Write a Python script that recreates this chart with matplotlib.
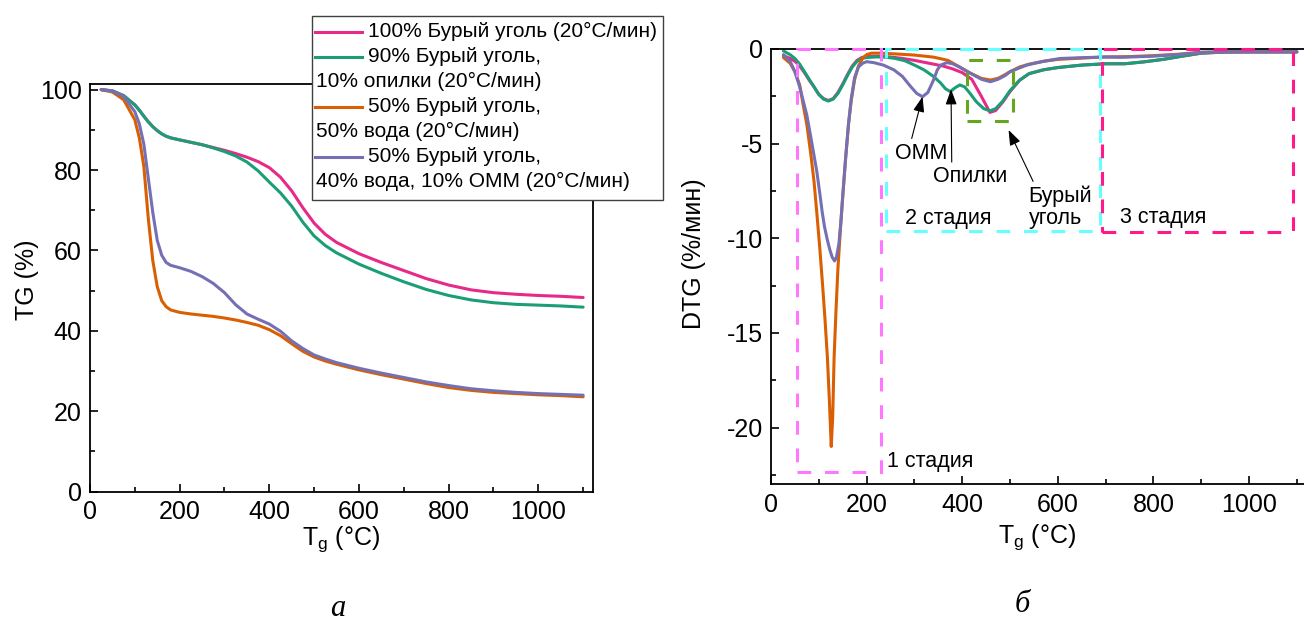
import matplotlib
matplotlib.use("Agg")
import matplotlib.pyplot as plt
from matplotlib.lines import Line2D
from matplotlib.patches import Rectangle
from matplotlib.ticker import MultipleLocator

plt.rcParams['font.family'] = ['Liberation Sans', 'DejaVu Sans']
plt.rcParams['axes.unicode_minus'] = False
plt.rcParams['mathtext.fontset'] = 'custom'
plt.rcParams['mathtext.rm'] = 'Liberation Sans'

# ---- TG data (left panel) ----
t_tg = [25, 50, 75, 100, 110, 120, 130, 140, 150, 160, 170, 180, 200, 225,
        250, 275, 300, 325, 350, 375, 400, 425, 450, 475, 500, 525, 550, 600,
        650, 700, 750, 800, 850, 900, 950, 1000, 1050, 1100]
tg_coal = [100, 99.7, 98.5, 96.2, 94.9, 93.4, 92.0, 90.8, 89.8, 89.0, 88.4,
           88.0, 87.5, 86.9, 86.3, 85.6, 84.9, 84.1, 83.2, 82.1, 80.6, 78.2,
           74.8, 70.6, 66.8, 64.0, 62.0, 59.2, 57.0, 55.0, 53.0, 51.4, 50.2,
           49.5, 49.1, 48.8, 48.6, 48.3]
tg_sawdust = [100, 99.7, 98.5, 96.2, 94.9, 93.4, 92.0, 90.8, 89.8, 89.0, 88.4,
              88.0, 87.5, 86.9, 86.3, 85.5, 84.6, 83.5, 82.0, 79.8, 77.0, 74.3,
              71.0, 67.0, 63.6, 61.2, 59.4, 56.6, 54.3, 52.2, 50.3, 48.8, 47.7,
              47.0, 46.6, 46.4, 46.2, 45.9]
tg_water = [100, 99.4, 97.5, 92.5, 88.0, 81.0, 68.0, 57.5, 51.0, 47.5, 46.0,
            45.2, 44.6, 44.2, 43.9, 43.6, 43.2, 42.7, 42.1, 41.4, 40.3, 38.8,
            36.8, 34.9, 33.5, 32.5, 31.7, 30.3, 29.1, 28.0, 26.9, 25.9, 25.2,
            24.7, 24.4, 24.1, 23.9, 23.6]
tg_omm = [100, 99.6, 98.3, 94.5, 91.5, 86.5, 78.0, 69.5, 62.5, 58.8, 57.0,
          56.3, 55.7, 54.8, 53.5, 51.8, 49.5, 46.5, 44.2, 42.9, 41.7, 39.9,
          37.5, 35.6, 34.0, 33.0, 32.1, 30.7, 29.5, 28.4, 27.3, 26.4, 25.6,
          25.1, 24.7, 24.4, 24.2, 24.0]

# ---- DTG data (right panel) ----
t_coal = [26, 40, 50, 60, 70, 80, 90, 100, 110, 120, 130, 140, 150, 160, 170,
          180, 190, 200, 220, 240, 260, 280, 300, 320, 340, 360, 380, 400, 420,
          440, 458, 470, 485, 500, 520, 540, 570, 600, 650, 700, 740, 780, 820,
          860, 900, 950, 1000, 1100]
dtg_coal = [-0.35, -0.5, -0.65, -0.9, -1.25, -1.65, -2.0, -2.4, -2.62, -2.72,
            -2.62, -2.3, -1.85, -1.35, -0.9, -0.6, -0.45, -0.4, -0.38, -0.4,
            -0.45, -0.52, -0.6, -0.7, -0.8, -0.9, -1.05, -1.25, -1.6, -2.5,
            -3.35, -3.25, -2.8, -2.25, -1.65, -1.3, -1.1, -0.98, -0.85, -0.78,
            -0.78, -0.68, -0.55, -0.38, -0.22, -0.16, -0.15, -0.15]
t_sawdust = [26, 40, 50, 60, 70, 80, 90, 100, 110, 120, 130, 140, 150, 160,
             170, 180, 190, 200, 220, 240, 260, 280, 300, 320, 340, 355, 365,
             375, 385, 395, 405, 415, 430, 445, 458, 470, 485, 500, 520, 540,
             570, 600, 650, 700, 740, 780, 820, 860, 900, 950, 1000, 1100]
dtg_sawdust = [-0.1, -0.3, -0.5, -0.8, -1.2, -1.6, -2.0, -2.4, -2.65, -2.75,
               -2.65, -2.35, -1.9, -1.4, -0.95, -0.65, -0.5, -0.45, -0.42,
               -0.43, -0.5, -0.62, -0.85, -1.1, -1.45, -1.8, -2.1, -2.25,
               -2.05, -1.9, -2.0, -2.3, -2.8, -3.15, -3.27, -3.15, -2.75, -2.2,
               -1.65, -1.3, -1.1, -0.98, -0.85, -0.78, -0.78, -0.68, -0.55,
               -0.38, -0.22, -0.16, -0.15, -0.15]
t_water = [26, 40, 50, 60, 67, 75, 83, 90, 96, 102, 108, 113, 118, 122, 126,
           129, 132, 136, 140, 145, 150, 156, 162, 168, 175, 183, 192, 200,
           210, 230, 260, 300, 340, 370, 393, 415, 440, 459, 475, 490, 500,
           520, 540, 570, 600, 650, 700, 750, 800, 850, 900, 950, 1000, 1100]
dtg_water = [-0.45, -0.75, -1.2, -1.9, -2.9, -4.0, -5.5, -7.0, -8.7, -10.5,
             -12.5, -14.3, -16.3, -18.5, -21.0, -19.5, -16.3, -13.8, -11.6,
             -9.6, -7.8, -5.8, -4.0, -2.7, -1.6, -0.9, -0.47, -0.3, -0.22,
             -0.22, -0.26, -0.32, -0.43, -0.6, -0.93, -1.25, -1.55, -1.64,
             -1.55, -1.35, -1.2, -0.95, -0.8, -0.65, -0.55, -0.48, -0.42, -0.4,
             -0.35, -0.28, -0.18, -0.15, -0.15, -0.15]
t_omm = [26, 40, 50, 60, 67, 75, 85, 96, 103, 107, 112, 118, 123, 128, 133,
         137, 142, 146, 150, 156, 162, 168, 175, 183, 192, 200, 215, 235, 257,
         275, 291, 305, 317, 328, 340, 348, 355, 368, 380, 393, 415, 440, 459,
         475, 490, 500, 520, 535, 570, 605, 650, 700, 730, 800, 850, 900, 950,
         1000, 1100]
dtg_omm = [-0.3, -0.65, -1.2, -2.0, -2.7, -3.5, -4.9, -6.5, -7.8, -8.6, -9.4,
           -10.1, -10.6, -11.0, -11.2, -11.0, -10.3, -9.2, -7.8, -5.8, -4.0,
           -2.6, -1.5, -0.95, -0.75, -0.67, -0.72, -0.85, -1.1, -1.45, -1.95,
           -2.35, -2.52, -2.3, -1.64, -1.1, -0.85, -0.72, -0.78, -0.93, -1.25,
           -1.6, -1.73, -1.6, -1.4, -1.2, -1.0, -0.85, -0.65, -0.5, -0.46,
           -0.42, -0.44, -0.38, -0.3, -0.17, -0.15, -0.15, -0.15]

labels = ["100% Бурый уголь (20°C/мин)",
          "90% Бурый уголь,\n10% опилки (20°C/мин)",
          "50% Бурый уголь,\n50% вода (20°C/мин)",
          "50% Бурый уголь,\n40% вода, 10% ОММ (20°C/мин)"]
colors = ['#e7298a', '#1b9e77', '#d95f02', '#7570b3']

# stage boxes (T_min, T_max, DTG_min, DTG_max)
stage_boxes = [((55, 231, -22.35, 0), '#ff77ff'),
               ((241, 688, -9.6, 0), '#66ffff'),
               ((692, 1093, -9.65, 0), '#ff1a8c'),
               ((410, 507, -3.8, -0.6), '#66a61e')]

W, H = 1304, 626
fig = plt.figure(figsize=(W / 100, H / 100), dpi=100)
ax1 = fig.add_axes([90 / W, 1 - 491.7 / H, 503 / W, 407.7 / H])
ax2 = fig.add_axes([771 / W, 1 - 484.3 / H, 533 / W, 435.3 / H])

lw = 2.2
for t, y, c in zip([t_tg] * 4, [tg_coal, tg_sawdust, tg_water, tg_omm], colors):
    ax1.plot(t, y, color=c, lw=lw, solid_capstyle='round')
for t, y, c in zip([t_coal, t_sawdust, t_water, t_omm],
                   [dtg_coal, dtg_sawdust, dtg_water, dtg_omm], colors):
    ax2.plot(t, y, color=c, lw=lw, solid_capstyle='round')

for (x0, x1, y0, y1), c in stage_boxes:
    ax2.add_patch(Rectangle((x0, y0), x1 - x0, y1 - y0, fill=False,
                            edgecolor=c, lw=2.2, linestyle=(0, (4.5, 4.5)),
                            zorder=3, clip_on=False))

ax1.set_xlim(0, 1122)
ax1.set_ylim(0, 101.4)
ax2.set_xlim(0, 1115)
ax2.set_ylim(-23, 0)

for ax in (ax1, ax2):
    ax.xaxis.set_major_locator(MultipleLocator(200))
    ax.xaxis.set_minor_locator(MultipleLocator(100))
    ax.tick_params(which='both', direction='in', top=False, right=False,
                   width=1.2, labelsize=18)
    ax.tick_params(which='major', length=6, pad=6)
    ax.tick_params(which='minor', length=3.5)
    for s in ax.spines.values():
        s.set_linewidth(1.3)
ax1.yaxis.set_major_locator(MultipleLocator(20))
ax1.yaxis.set_minor_locator(MultipleLocator(10))
ax2.yaxis.set_major_locator(MultipleLocator(5))
ax2.yaxis.set_minor_locator(MultipleLocator(2.5))
ax2.spines['right'].set_visible(False)

ax1.set_xlabel(r'T$_\mathregular{g}$ (°C)', fontsize=18)
ax1.set_ylabel('TG (%)', fontsize=18)
ax2.set_xlabel(r'T$_\mathregular{g}$ (°C)', fontsize=18)
ax2.set_ylabel('DTG (%/мин)', fontsize=18)
ax1.xaxis.set_label_coords(0.5, -0.079)
ax1.yaxis.set_label_coords(-0.102, 0.52)
ax2.xaxis.set_label_coords(0.5, -0.087)
ax2.yaxis.set_label_coords(-0.122, 0.53)

# annotations
fs_note = 15.5
arrow = dict(arrowstyle='-|>,head_length=0.6,head_width=0.22', color='black',
             lw=0.8, shrinkA=1, shrinkB=0)
ax2.annotate('ОММ', xy=(317, -2.52), xytext=(314, -5.5), fontsize=fs_note,
             ha='center', va='center', arrowprops=dict(arrow, relpos=(0.3, 1)))
ax2.annotate('Опилки', xy=(376.6, -2.13), xytext=(417, -6.75),
             fontsize=fs_note, ha='center', va='center',
             arrowprops=dict(arrow, relpos=(0.25, 1)))
ax2.annotate('Бурый\nуголь', xy=(497, -4.28), xytext=(539, -8.37),
             fontsize=fs_note, ha='left', va='center', linespacing=1.1,
             arrowprops=dict(arrow, relpos=(0.1, 1)))
ax2.text(371, -8.94, '2 стадия', fontsize=fs_note, ha='center', va='center')
ax2.text(821, -8.88, '3 стадия', fontsize=fs_note, ha='center', va='center')
ax2.text(243, -21.8, '1 стадия', fontsize=fs_note, ha='left', va='center')

# legend drawn by hand (continuation lines start at the box edge)
fig.add_artist(Rectangle((312 / W, 1 - 200 / H), 351 / W, 184 / H,
                         transform=fig.transFigure, facecolor='white',
                         edgecolor='#404040', lw=1.0, zorder=5))
rows = []
for lab, c in zip(labels, colors):
    for i, part in enumerate(lab.split('\n')):
        rows.append((part, c if i == 0 else None))
for k, (txt, c) in enumerate(rows):
    yc = 1 - (31.7 + 25 * k) / H
    if c is not None:
        fig.add_artist(Line2D([315 / W, 362 / W], [yc, yc], color=c, lw=2.2,
                              transform=fig.transFigure, zorder=6))
        fig.text(368 / W, yc, txt, fontsize=15, va='center', zorder=6)
    else:
        fig.text(316 / W, yc, txt, fontsize=15, va='center', zorder=6)

fig.text(338 / W, 1 - 608 / H, 'а', fontsize=22, ha='center', va='center',
         family='Liberation Serif', style='italic')
fig.text(1022 / W, 1 - 605 / H, 'б', fontsize=22, ha='center', va='center',
         family='Liberation Serif', style='italic')

fig.savefig('out.png', dpi=100)
